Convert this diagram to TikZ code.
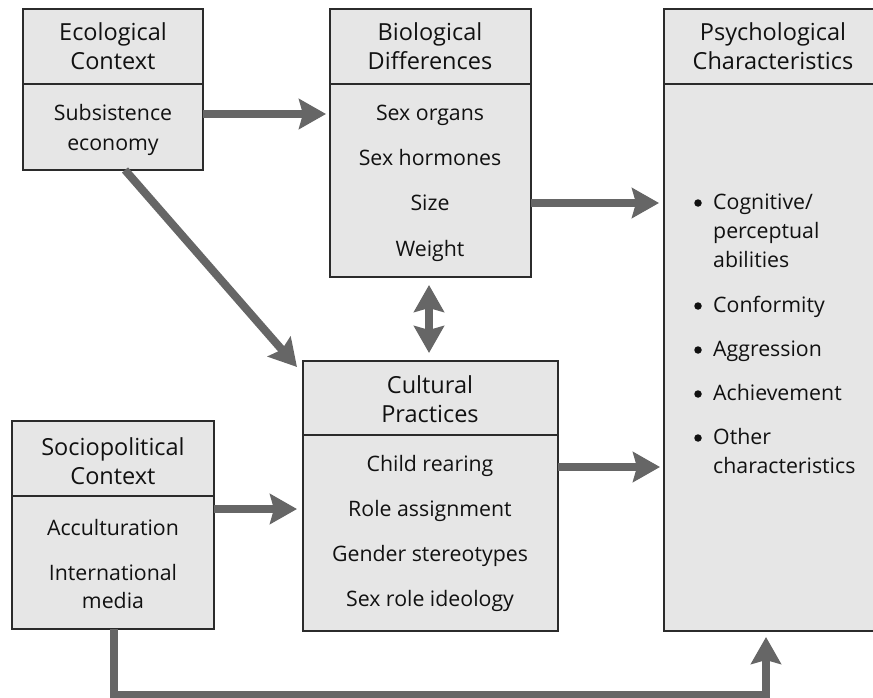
\documentclass[tikz,border=0pt]{standalone}
\usepackage{fontspec}
\setmainfont{Open Sans}
\usetikzlibrary{arrows.meta,calc}
\definecolor{boxfill}{HTML}{E6E6E6}
\definecolor{boxline}{HTML}{2B2B2B}
\definecolor{arrgray}{HTML}{666666}
\definecolor{textcol}{HTML}{111111}
\tikzset{
  box/.style={draw=boxline, line width=1.4pt, fill=boxfill, inner sep=0pt, outer sep=0pt, anchor=north west},
  divider/.style={draw=boxline, line width=1.4pt},
  txt/.style={anchor=base, inner sep=0pt, text=textcol, font=\fontsize{21.3}{29}\selectfont},
  ttl/.style={anchor=base, inner sep=0pt, text=textcol, font=\fontsize{23.5}{29}\selectfont},
  ltxt/.style={anchor=base west, inner sep=0pt, text=textcol, font=\fontsize{21.3}{29}\selectfont},
  dot/.style={circle, fill=textcol, inner sep=0pt, minimum size=7.5pt},
  arr/.style={draw=arrgray, line width=8pt, line join=miter,
    -{Stealth[length=27pt, width=30pt, inset=4pt]}},
  darr/.style={draw=arrgray, line width=8pt,
    {Stealth[length=27pt, width=30pt, inset=4pt]}-{Stealth[length=27pt, width=30pt, inset=4pt]}},
}
\begin{document}
\begin{tikzpicture}[x=1pt,y=-1pt]
\useasboundingbox (0,0) rectangle (873,698);
\begin{scope}
\clip (0,0) rectangle (873,698);
% boxes
\node[box, minimum width=180pt, minimum height=161pt] (eco) at (23,9) {};
\node[box, minimum width=201pt, minimum height=268pt] (bio) at (330,9) {};
\node[box, minimum width=218pt, minimum height=622pt] (psy) at (664,9) {};
\node[box, minimum width=255pt, minimum height=270pt] (cul) at (303,361) {};
\node[box, minimum width=202pt, minimum height=208pt] (soc) at (12,421) {};
% dividers
\draw[divider] (eco.west |- 0,84) -- (eco.east |- 0,84);
\draw[divider] (bio.west |- 0,84) -- (bio.east |- 0,84);
\draw[divider] (psy.west |- 0,84) -- (psy.east |- 0,84);
\draw[divider] (cul.west |- 0,435) -- (cul.east |- 0,435);
\draw[divider] (soc.west |- 0,496) -- (soc.east |- 0,496);
\end{scope}
% ecological texts
\node[ttl] (ecoT1) at (113,41) {Ecological};
\node[ttl] (ecoT2) at (113,70) {Context};
\node[txt] (ecoB1) at (113,121) {Subsistence};
\node[txt] (ecoB2) at (113,150) {economy};
% biological texts
\node[ttl] (bioT1) at (430,41) {Biological};
\node[ttl] (bioT2) at (430,70) {Differences};
\node[txt] (bioB1) at (430,121) {Sex organs};
\node[txt] (bioB2) at (430,166) {Sex hormones};
\node[txt] (bioB3) at (430,211) {Size};
\node[txt] (bioB4) at (430,256) {Weight};
% psychological texts
\node[ttl] (psyT1) at (773,41) {Psychological};
\node[ttl] (psyT2) at (773,70) {Characteristics};
\node[dot] (psyD1) at (698,203) {};
\node[ltxt] (psyB1) at (713,209) {Cognitive/};
\node[ltxt] (psyB1b) at (713,238) {perceptual};
\node[ltxt] (psyB1c) at (713,267) {abilities};
\node[dot] (psyD2) at (698,306) {};
\node[ltxt] (psyB2) at (713,312) {Conformity};
\node[dot] (psyD3) at (698,350) {};
\node[ltxt] (psyB3) at (713,356) {Aggression};
\node[dot] (psyD4) at (698,394) {};
\node[ltxt] (psyB4) at (713,400) {Achievement};
\node[dot] (psyD5) at (698,438) {};
\node[ltxt] (psyB5) at (713,444) {Other};
\node[ltxt] (psyB5b) at (713,473) {characteristics};
% cultural texts
\node[ttl] (culT1) at (430,393) {Cultural};
\node[ttl] (culT2) at (430,422) {Practices};
\node[txt] (culB1) at (430,471) {Child rearing};
\node[txt] (culB2) at (430,516) {Role assignment};
\node[txt] (culB3) at (430,561) {Gender stereotypes};
\node[txt] (culB4) at (430,606) {Sex role ideology};
% sociopolitical texts
\node[ttl] (socT1) at (113,455) {Sociopolitical};
\node[ttl] (socT2) at (113,484) {Context};
\node[txt] (socB1) at (113,535) {Acculturation};
\node[txt] (socB2) at (113,580) {International};
\node[txt] (socB3) at (113,608) {media};
% arrows
\draw[arr] (eco.east |- 0,114) -- ($(bio.west |- 0,114)+(-4,0)$);
\draw[arr] (bio.east |- 0,203) -- ($(psy.west |- 0,203)+(-5,0)$);
\draw[arr] (cul.east |- 0,467) -- ($(psy.west |- 0,467)+(-4,0)$);
\draw[arr] (soc.east |- 0,509) -- ($(cul.west |- 0,509)+(-6,0)$);
\draw[darr] ($(bio.south -| 429,0)+(0,8)$) -- ($(cul.north -| 429,0)+(0,-8)$);
\coordinate (ecoOut) at (125,170);
\coordinate (culIn) at (297,367);
\draw[arr] (ecoOut) -- (culIn);
\coordinate (turn) at (766,695);
\draw[arr] (soc.south -| 114,0) |- (turn) -- ($(turn |- psy.south)+(0,6)$);
\end{tikzpicture}
\end{document}
